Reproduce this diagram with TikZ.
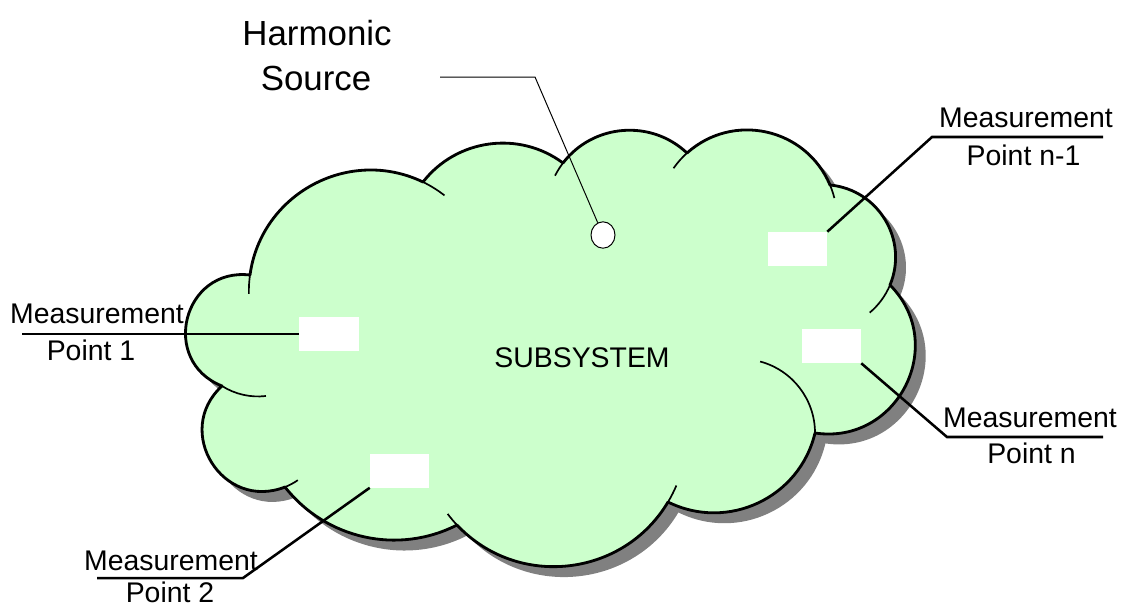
\documentclass[tikz,border=0pt]{standalone}
\usepackage{fontspec}
\setmainfont{Liberation Sans}
\usepackage{xcolor}
\usepackage{tikz}
\usetikzlibrary{
    positioning,
    calc,
    shapes.geometric,
    shadows
}
\definecolor{cloudgreen}{HTML}{CCFFCC}

\begin{document}
\begin{tikzpicture}[x=0.025cm, y=0.025cm,
  lobe/.style={draw=black, line width=2pt, fill=cloudgreen, line join=round,
               drop shadow={shadow xshift=0.26cm, shadow yshift=-0.26cm,
                            fill=black!50, opacity=1}},
  tick/.style={draw=black, line width=1.2pt},
  probe/.style={fill=white, minimum width=1.475cm, minimum height=0.85cm, inner sep=0pt},
  lead/.style={draw=black, line width=1.8pt},
  thinlead/.style={draw=black, line width=0.7pt},
  lbl/.style={anchor=base, inner sep=0pt, font=\fontsize{20.2}{24}\selectfont},
  biglbl/.style={anchor=base, inner sep=0pt, font=\fontsize{24.8}{29}\selectfont}]

  \useasboundingbox (0,0) rectangle (1123,-608);

  % Cloud outline (clockwise, lobe by lobe)
  \path[lobe] (250,-275)
    to[bend left=54,   looseness=1.07] (423,-182)
    to[bend left=44.5, looseness=0.99] (563,-163)
    to[bend left=48,   looseness=1.02] (687,-153)
    to[bend left=54.5, looseness=1.08] (830,-185)
    to[bend left=53.5, looseness=1.07] (890,-285)
    to[bend left=71.5, looseness=1.29] (815,-433)
    to[bend left=51.5, looseness=1.05] (668,-502)
    to[bend left=53,   looseness=1.06] (457,-525)
    to[bend left=39.5, looseness=0.96] (285,-487)
    to[bend left=79.5, looseness=1.44] (222,-386)
    to[bend left=82.5, looseness=1.51] (250,-275) -- cycle;

  % Inner lobe ticks
  \draw[tick] (250,-275) arc[start angle=172,   end angle=181,   radius=121];
  \draw[tick] (423,-182) arc[start angle=64,    end angle=52,    radius=121];
  \draw[tick] (563,-163) arc[start angle=142.7, end angle=153,   radius=83.6];
  \draw[tick] (687,-153) arc[start angle=132,   end angle=145,   radius=89.8];
  \draw[tick] (830,-185) arc[start angle=22.8,  end angle=14,    radius=89.8];
  \draw[tick] (890,-285) arc[start angle=-22.6, end angle=-50,   radius=72.4];
  \draw[tick] (815,-433) arc[start angle=0,     end angle=75,    radius=74];
  \draw[tick] (668,-502) arc[start angle=-30.9, end angle=-23,   radius=134.3];
  \draw[tick] (457,-525) arc[start angle=-136.8,end angle=-143,  radius=134.3];
  \draw[tick] (285,-487) arc[start angle=-68.7, end angle=-55,   radius=61];
  \draw[tick] (222,-386) arc[start angle=237.7, end angle=276.7, radius=67.5];

  % Measurement boxes and harmonic source
  \node[probe] (box1)  at (329,-334)    {};
  \node[probe] (box2)  at (399.5,-470.5) {};
  \node[probe] (boxnm) at (797.5,-249)  {};
  \node[probe] (boxn)  at (831.5,-346)  {};
  \node[draw, ellipse, fill=white, line width=0.7pt, inner sep=0pt,
        minimum width=0.6cm, minimum height=0.66cm] (src) at (603,-235) {};

  \node[lbl] (subsys) at (582,-367) {SUBSYSTEM};

  % Labels
  \node[biglbl] (hsA) at (317,-45) {Harmonic};
  \node[biglbl] (hsB) at (316,-90) {Source};

  \node[lbl] (mp1A) at (97,-323)    {Measurement};
  \node[lbl] (mp1B) at (91,-360)    {Point 1};
  \node[lbl] (mp2A) at (171,-570)   {Measurement};
  \node[lbl] (mp2B) at (170,-602)   {Point 2};
  \node[lbl] (mpnmA) at (1026,-127) {Measurement};
  \node[lbl] (mpnmB) at (1023.5,-165) {Point n-1};
  \node[lbl] (mpnA) at (1030,-427)  {Measurement};
  \node[lbl] (mpnB) at (1031.5,-463) {Point n};

  % Leader lines
  \coordinate (u1a) at (22,-334);
  \coordinate (u2a) at (97,-578);
  \coordinate (u2b) at (243,-578);
  \coordinate (u3a) at (932,-137);
  \coordinate (u3b) at (1103,-137);
  \coordinate (u4a) at (947,-437);
  \coordinate (u4b) at (1103,-437);
  \coordinate (h1) at (440,-77);
  \coordinate (h2) at (535,-77);

  \draw[lead] (u1a) -- (box1.west);
  \draw[lead] (u2a) -- (u2b) -- (box2.south west);
  \draw[lead] (boxnm.north east) -- (u3a) -- (u3b);
  \draw[lead] (boxn.south east) -- (u4a) -- (u4b);
  \draw[thinlead] (h1) -- (h2) -- (src);
\end{tikzpicture}
\end{document}
